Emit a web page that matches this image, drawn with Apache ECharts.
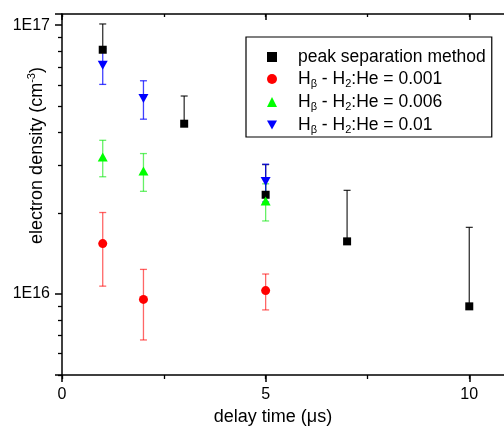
<!DOCTYPE html>
<html><head><meta charset="utf-8">
<script src="https://cdn.jsdelivr.net/npm/echarts@6/dist/echarts.min.js"></script>
<style>html,body{margin:0;padding:0;background:#fff}#c{width:504px;height:432px}</style>
</head><body><div id="c"></div>
<script>
// ---- data ----
const peakX = [1, 3, 5, 7, 10];
const peakY = [8.1e16, 4.3e16, 2.34e16, 1.57e16, 9.0e15];
const peakErrUp = [2.0e16, 1.15e16, 0.69e16, 0.86e16, 0.87e16];

const h001X = [1, 2, 5];
const h001Y = [1.54e16, 9.55e15, 1.03e16];
const h001Err = [4.7e15, 2.8e15, 1.57e15];

const h006X = [1, 2, 5];
const h006Y = [3.23e16, 2.87e16, 2.22e16];
const h006Err = [5.0e15, 4.6e15, 3.5e15];

const h01X = [1, 2, 5];
const h01Y = [7.1e16, 5.34e16, 2.62e16];
const h01Err = [1.08e16, 8.7e15, 4.2e15];

const seriesNames = ['peak separation method', 'Hβ - H2:He = 0.001', 'Hβ - H2:He = 0.006', 'Hβ - H2:He = 0.01'];
const legendLabels = [
  '{a|peak separation method}',
  '{a|H}{s|β}{a| - H}{s|2}{a|:He = 0.001}',
  '{a|H}{s|β}{a| - H}{s|2}{a|:He = 0.006}',
  '{a|H}{s|β}{a| - H}{s|2}{a|:He = 0.01}'
];
const legendIcons = ['rect', 'circle', 'triangle', 'path://M0,0L10,0L5,9Z'];
const xTitle = 'delay time (μs)';
const yTitle = '{a|electron density (cm}{b|-3}{a|)}';

const FONT = 'Liberation Sans, Arial, Helvetica, sans-serif';

function errSeries(name, xs, ys, lo, hi, color) {
  return {
    type: 'custom', name: name + ' err', xAxisIndex: 0, yAxisIndex: 0, silent: true,
    data: xs.map((x, i) => [x, ys[i], ys[i] - lo[i], ys[i] + hi[i]]),
    encode: { x: 0, y: 1 },
    renderItem(params, api) {
      const x = api.value(0), y = api.value(1), l = api.value(2), h = api.value(3);
      const pt = api.coord([x, h]), pb = api.coord([x, l]);
      const hw = 3.5;
      const st = { stroke: color, lineWidth: 1.3 };
      const ch = [{ type: 'line', shape: { x1: pt[0], y1: pt[1], x2: pb[0], y2: pb[1] }, style: st }];
      if (h > y) ch.push({ type: 'line', shape: { x1: pt[0] - hw, y1: pt[1], x2: pt[0] + hw, y2: pt[1] }, style: st });
      if (l < y) ch.push({ type: 'line', shape: { x1: pb[0] - hw, y1: pb[1], x2: pb[0] + hw, y2: pb[1] }, style: st });
      return { type: 'group', children: ch };
    }
  };
}
function scat(name, xs, ys, color, symbol, size, rot) {
  return {
    type: 'scatter', name, xAxisIndex: 0, yAxisIndex: 0, symbol, symbolSize: size, symbolRotate: rot || 0,
    itemStyle: { color, opacity: 1 }, data: xs.map((x, i) => [x, ys[i]]), silent: true
  };
}
const zeros = a => a.map(() => 0);

function fmtY(v) {
  const e = Math.log10(v);
  if (Math.abs(e - Math.round(e)) > 1e-6) return '';
  return '1E' + Math.round(e);
}

const axLine = { show: true, onZero: false, lineStyle: { color: '#000', width: 1.5 } };
const xCommon = { type: 'value', min: 0, max: 11, gridIndex: 0, splitLine: { show: false } };

const chart = echarts.init(document.getElementById('c'), null, { renderer: 'canvas' });
chart.setOption({
  animation: false,
  backgroundColor: '#fff',
  grid: { left: 62, right: -6, top: 14, bottom: 57, containLabel: false, outerBoundsMode: 'none' },
  xAxis: [
    Object.assign({}, xCommon, {
      position: 'bottom', interval: 5, axisLine: axLine,
      axisTick: { show: true, inside: false, length: 7, lineStyle: { color: '#000', width: 1.5 } },
      axisLabel: { fontSize: 16, color: '#000', fontFamily: FONT, margin: 12, showMaxLabel: false },
      name: xTitle, nameLocation: 'middle', nameGap: 33, nameMoveOverlap: false,
      nameTextStyle: { fontSize: 18, color: '#000', fontFamily: FONT, padding: [0, 26, 0, 0] }
    }),
    Object.assign({}, xCommon, {
      position: 'bottom', interval: 2.5, axisLine: { show: false },
      axisTick: { show: true, inside: false, length: 4, lineStyle: { color: '#000', width: 1.3 } },
      axisLabel: { show: false }
    }),
    Object.assign({}, xCommon, {
      position: 'top', interval: 5, axisLine: axLine,
      axisTick: { show: true, inside: true, length: 6, lineStyle: { color: '#000', width: 1.5 } },
      axisLabel: { show: false }
    }),
    Object.assign({}, xCommon, {
      position: 'top', interval: 2.5, axisLine: { show: false },
      axisTick: { show: true, inside: true, length: 3, lineStyle: { color: '#000', width: 1.3 } },
      axisLabel: { show: false }
    })
  ],
  yAxis: [
    {
      type: 'log', logBase: 10, min: 5e15, max: 1.1e17, position: 'left', axisLine: axLine,
      axisTick: { show: true, inside: false, length: 7, lineStyle: { color: '#000', width: 1.5 } },
      minorTick: { show: true, splitNumber: 9, length: 4, lineStyle: { color: '#000', width: 1.3 } },
      splitLine: { show: false }, minorSplitLine: { show: false },
      axisLabel: { formatter: fmtY, fontSize: 16, color: '#000', fontFamily: FONT, margin: 12 },
      name: yTitle, nameLocation: 'middle', nameGap: 14, nameRotate: 90, nameMoveOverlap: false,
      nameTextStyle: {
        color: '#000', fontFamily: FONT, fontSize: 18, padding: [0, 0, 0, 78],
        rich: {
          a: { fontSize: 18, lineHeight: 22, fontFamily: FONT, color: '#000' },
          b: { fontSize: 11, lineHeight: 2, verticalAlign: 'top', fontFamily: FONT, color: '#000' }
        }
      }
    },
    {
      type: 'log', logBase: 10, min: 5e15, max: 1.1e17, position: 'right', axisLine: axLine,
      axisTick: { show: true, inside: true, length: 6, lineStyle: { color: '#000', width: 1.5 } },
      minorTick: { show: true, splitNumber: 9, length: 3, lineStyle: { color: '#000', width: 1.3 } },
      splitLine: { show: false }, axisLabel: { show: false }
    }
  ],
  legend: {
    data: seriesNames.map((n, i) => ({ name: n, icon: legendIcons[i] })),
    orient: 'vertical', left: 246, top: 37,
    itemWidth: 10, itemHeight: 10, itemGap: 4, padding: [11, 6, 2, 21],
    borderColor: '#000', borderWidth: 1.2, backgroundColor: '#fff', selectedMode: false,
    formatter: n => legendLabels[seriesNames.indexOf(n)],
    textStyle: {
      fontSize: 17.5, color: '#000', fontFamily: FONT, padding: [0, 0, 0, 16],
      rich: {
        a: { fontSize: 17.5, lineHeight: 20, fontFamily: FONT, color: '#000' },
        s: { fontSize: 11, lineHeight: 6, verticalAlign: 'bottom', fontFamily: FONT, color: '#000' }
      }
    }
  },
  series: [
    errSeries(seriesNames[0], peakX, peakY, zeros(peakX), peakErrUp, 'rgba(0,0,0,0.8)'),
    scat(seriesNames[0], peakX, peakY, '#000000', 'rect', 8),
    errSeries(seriesNames[1], h001X, h001Y, h001Err, h001Err, 'rgba(255,0,0,0.6)'),
    scat(seriesNames[1], h001X, h001Y, '#ff0000', 'circle', 9),
    errSeries(seriesNames[2], h006X, h006Y, h006Err, h006Err, 'rgba(0,230,0,0.6)'),
    scat(seriesNames[2], h006X, h006Y, '#00ff00', 'triangle', [10, 9]),
    errSeries(seriesNames[3], h01X, h01Y, h01Err, h01Err, 'rgba(0,0,255,0.75)'),
    scat(seriesNames[3], h01X, h01Y, '#0000ff', 'triangle', [10, 9], 180)
  ]
});
</script>
</body></html>
